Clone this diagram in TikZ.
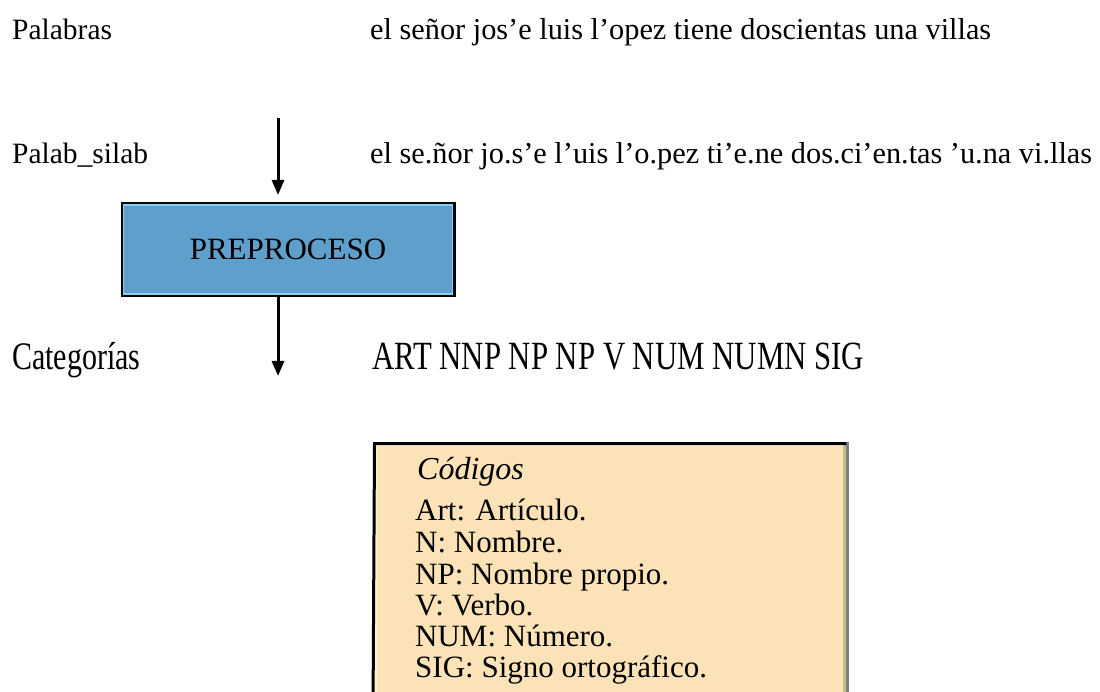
\documentclass[tikz,border=0pt]{standalone}
\usepackage{fontspec}
\setmainfont{Liberation Serif}
\usetikzlibrary{arrows.meta}
\definecolor{procblue}{HTML}{5E9FCC}
\definecolor{procedge}{HTML}{82D2F2}
\definecolor{notefill}{HTML}{FCE3B7}
\definecolor{noteinner}{HTML}{FFF6CC}
\definecolor{notetan}{HTML}{C9B98C}
\definecolor{noteshade}{HTML}{808080}
\newcommand{\fsz}[1]{\fontsize{#1}{#1}\selectfont}
\tikzset{
  label/.style={anchor=base west, inner sep=0pt, font=\fsz{29.5}},
  sentence/.style={anchor=base west, inner sep=0pt, font=\fsz{30.3}},
  tall/.style={anchor=base west, inner sep=0pt, font=\fsz{30.8}, yscale=1.3},
  flow/.style={line width=3pt, -{Triangle[width=12pt,length=15pt]}},
  notetext/.style={anchor=base west, inner sep=0pt, font=\fsz{31}},
}
\begin{document}
\begin{tikzpicture}[x=1pt,y=-1pt]
\clip (0,0) rectangle (1100,692);
\fill[white] (0,0) rectangle (1100,692);

% row labels
\node[label] (lw) at (12,40) {Palabras};
\node[label] (ls) at (12,164) {Palab\_silab};
\node[label, font=\fsz{30}, yscale=1.3] (lc) at (12,370) {Categorías};

% row contents
\node[sentence] (w) at (370,40) {el señor jos'e luis l'opez tiene doscientas una villas};
\node[sentence] (s) at (370,164) {el se.ñor jo.s'e l'uis l'o.pez ti'e.ne dos.ci'en.tas 'u.na vi.llas};
\node[tall] (c) at (372,370) {ART NNP NP NP V NUM NUMN SIG};

% preprocessing block
\node[draw=black, line width=3pt, fill=procblue, minimum width=332pt, minimum height=92pt,
      inner sep=0pt, font=\fsz{31}] (pre) at (288,249.5) {PREPROCESO};
\draw[procedge, line width=1.5pt] ([xshift=3pt,yshift=-3pt]pre.north west) rectangle ([xshift=-3pt,yshift=3pt]pre.south east);

\coordinate (in) at (278,118);
\coordinate (out) at (278,376);
\draw[flow, shorten >=7pt] (in) -- (in |- pre.north);
\draw[flow] (in |- pre.south) -- (out);

% code legend
\node[fill=notefill, minimum width=476pt, minimum height=270pt, inner sep=0pt, anchor=north west] (codes) at (373,442) {};
\draw[noteinner, line width=2pt] ([xshift=3pt,yshift=-3pt]codes.south west) -- ([xshift=3pt,yshift=-3pt]codes.north west) -- ([xshift=-6pt,yshift=-3pt]codes.north east);
\draw[notetan, line width=3pt] ([xshift=-4.5pt]codes.north east) -- ([xshift=-4.5pt]codes.south east);
\draw[noteshade, line width=3pt] ([xshift=-1.5pt]codes.north east) -- ([xshift=-1.5pt]codes.south east);
\draw[black, line width=3pt] ([yshift=-1.5pt]codes.south west) -- ([xshift=1.5pt,yshift=-1.5pt]codes.north west) -- ([xshift=-3pt,yshift=-1.5pt]codes.north east);

\node[notetext, font=\fsz{32}\itshape] (ct) at (417,479) {Códigos};
\node[notetext] (c1) at (415,520) {Art: Artículo.};
\node[notetext] (c2) at (415,552) {N: Nombre.};
\node[notetext] (c3) at (415,584) {NP: Nombre propio.};
\node[notetext] (c4) at (415,615) {V: Verbo.};
\node[notetext] (c5) at (415,646) {NUM: Número.};
\node[notetext] (c6) at (415,677) {SIG: Signo ortográfico.};
\end{tikzpicture}
\end{document}
